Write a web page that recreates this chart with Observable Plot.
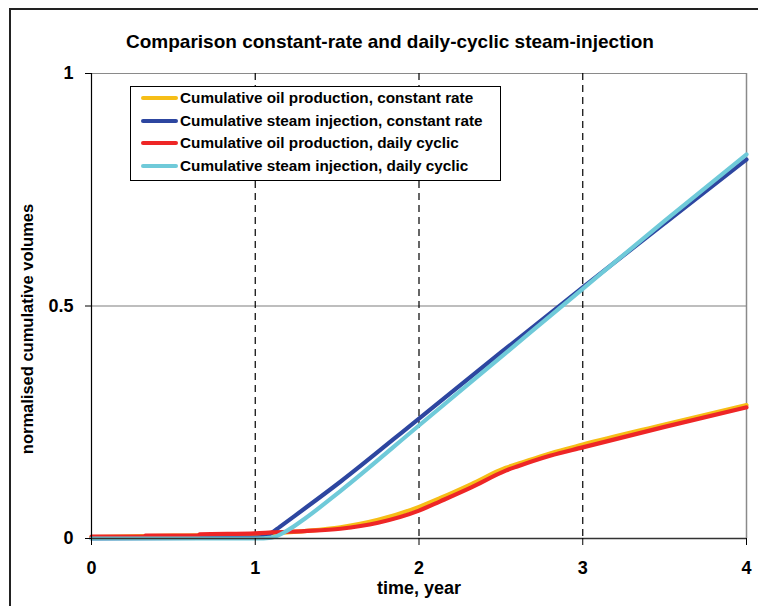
<!DOCTYPE html>
<html>
<head>
<meta charset="utf-8">
<script src="https://cdn.jsdelivr.net/npm/d3@7"></script>
<script src="https://cdn.jsdelivr.net/npm/@observablehq/plot@0.6"></script>
<style>
  html, body { margin: 0; padding: 0; background: #fff; overflow: hidden; }
  #wrap { position: relative; width: 758px; height: 606px; overflow: hidden; font-family: "Liberation Sans", Arial, sans-serif; }
  #frame { position: absolute; left: 9px; top: 8px; width: 800px; height: 700px; border: 2px solid #222; box-sizing: border-box; }
  #chart { position: absolute; left: 0; top: 0; }
  #legend { position: absolute; left: 130px; top: 86px; width: 371px; height: 95px; border: 1px solid #000; box-sizing: border-box; background: #fff; }
  .item { position: absolute; left: 10px; height: 20px; display: flex; align-items: center; font-weight: bold; font-size: 15.3px; color: #000; white-space: nowrap; }
  .sw { width: 37px; height: 4px; border-radius: 2px; margin-right: 2px; }
</style>
</head>
<body>
<div id="wrap">
  <div id="frame"></div>
  <div id="chart"></div>
  <div id="legend"></div>
</div>
<script>
// ---- data ----
const seriesNames = [
  "Cumulative oil production, constant rate",
  "Cumulative steam injection, constant rate",
  "Cumulative oil production, daily cyclic",
  "Cumulative steam injection, daily cyclic"
];
const seriesColors = ["#F6BE17", "#2D46A0", "#EE2626", "#6FCAD9"];

const oilConstT = [0, 0.5, 1.0, 1.1, 1.3, 1.52, 1.75, 2.0, 2.13, 2.32, 2.53, 2.6, 2.8, 3.0, 3.5, 4.0];
const oilConstV = [0.003, 0.006, 0.009, 0.011, 0.016, 0.024, 0.040, 0.068, 0.087, 0.117, 0.152, 0.160, 0.183, 0.202, 0.245, 0.287];

const steamConstT = [0, 1.0, 1.06, 1.1, 1.15, 1.52, 2.0, 2.5, 3.0, 3.5, 4.0];
const steamConstV = [0, 0.002, 0.005, 0.012, 0.025, 0.122, 0.258, 0.400, 0.540, 0.678, 0.815];

const oilCyclicT = [0, 0.32, 0.33, 0.65, 0.66, 1.0, 1.1, 1.3, 1.52, 1.75, 2.0, 2.13, 2.32, 2.53, 2.6, 2.8, 3.0, 3.5, 4.0];
const oilCyclicV = [0.004, 0.004, 0.006, 0.006, 0.009, 0.011, 0.013, 0.016, 0.021, 0.034, 0.060, 0.080, 0.110, 0.146, 0.155, 0.178, 0.196, 0.240, 0.282];

const steamCyclicT = [0, 1.0, 1.1, 1.2, 1.3, 1.52, 2.0, 2.5, 3.0, 3.5, 4.0];
const steamCyclicV = [0, 0, 0.002, 0.018, 0.042, 0.102, 0.243, 0.390, 0.537, 0.683, 0.826];

const xTicks = [0, 1, 2, 3, 4];
const xTickLabels = ["0", "1", "2", "3", "4"];
const yTicks = [0, 0.5, 1];
const yTickLabels = ["0", "0.5", "1"];
const dashedX = [1, 2, 3];

const titleText = "Comparison constant-rate and daily-cyclic steam-injection";
const xLabel = "time, year";
const yLabel = "normalised cumulative volumes";

// ---- build ----
const seriesT = [oilConstT, steamConstT, oilCyclicT, steamCyclicT];
const seriesV = [oilConstV, steamConstV, oilCyclicV, steamCyclicV];
const rows = [];
seriesT.forEach((ts, i) => ts.forEach((t, j) => rows.push({series: seriesNames[i], t, v: seriesV[i][j]})));

const font = '"Liberation Sans", Arial, sans-serif';

const chart = Plot.plot({
  width: 758,
  height: 606,
  marginLeft: 91,
  marginRight: 12,
  marginTop: 73,
  marginBottom: 68,
  style: {fontFamily: font, fontSize: "18px", fontWeight: "bold", color: "#000", background: "transparent", overflow: "visible"},
  x: {domain: [0, 4]},
  y: {domain: [0, 1]},
  color: {domain: seriesNames, range: seriesColors},
  marks: [
    Plot.ruleY([0.5], {stroke: "#7f7f7f", strokeWidth: 1.2}),
    Plot.ruleY([1], {stroke: "#8a8a8a", strokeWidth: 1.2}),
    Plot.ruleX([4], {stroke: "#8a8a8a", strokeWidth: 1.5}),
    Plot.ruleX(dashedX, {stroke: "#000", strokeWidth: 1.2, strokeDasharray: "7,5"}),
    Plot.line(rows, {x: "t", y: "v", z: "series", stroke: "series", strokeWidth: 4.2, curve: "monotone-x"}),
    Plot.ruleX([0], {stroke: "#000", strokeWidth: 1.2}),
    Plot.ruleY([0], {stroke: "#333", strokeWidth: 1.5}),
    Plot.axisX({ticks: xTicks, tickFormat: d => xTickLabels[xTicks.indexOf(d)], tickSize: 7, tickPadding: 16, label: null}),
    Plot.axisY({ticks: yTicks, tickFormat: d => yTickLabels[yTicks.indexOf(d)], tickSize: 6, tickPadding: 12, label: null}),
    Plot.text([titleText], {text: d => d, frameAnchor: "top", dx: -29, dy: -39, fontSize: 19, fontWeight: "bold"}),
    Plot.text([xLabel], {text: d => d, frameAnchor: "bottom", dy: 55, fontSize: 18, fontWeight: "bold"}),
    Plot.text([yLabel], {text: d => d, frameAnchor: "left", textAnchor: "middle", dx: -64, dy: 23, rotate: -90, fontSize: 16.5, fontWeight: "bold"})
  ]
});
document.getElementById("chart").appendChild(chart);

// legend
const legend = document.getElementById("legend");
const rowTops = [0, 22.5, 45, 67.5];
seriesNames.forEach((name, i) => {
  const it = document.createElement("div");
  it.className = "item";
  it.style.top = (rowTops[i] + 1) + "px";
  const sw = document.createElement("div");
  sw.className = "sw";
  sw.style.background = seriesColors[i];
  const tx = document.createElement("span");
  tx.textContent = name;
  it.appendChild(sw);
  it.appendChild(tx);
  legend.appendChild(it);
});
</script>
</body>
</html>
